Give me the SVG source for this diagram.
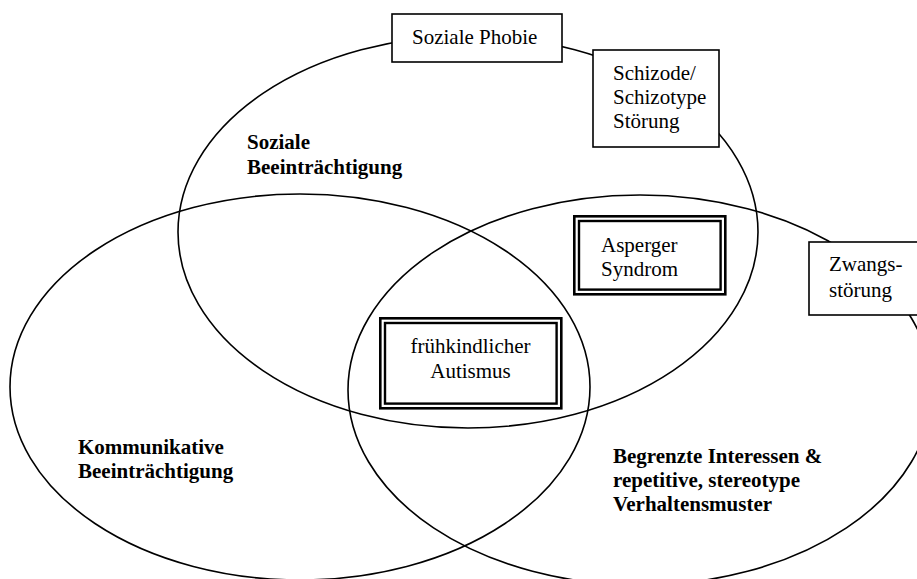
<svg xmlns="http://www.w3.org/2000/svg" width="917" height="579" viewBox="0 0 917 579">
<style>
.ell{fill:none;stroke:#000;stroke-width:1.6}
.box{fill:#fff;stroke:#000;stroke-width:1.6}
.dbl{fill:#fff;stroke:#000;stroke-width:2.6}
.dbli{fill:none;stroke:#000;stroke-width:2.4}
.t{font-family:"Liberation Serif","Times New Roman",serif;font-size:21px;fill:#000}
.b{font-weight:bold}
</style>
<rect width="917" height="579" fill="#fff"/>
<g id="sets">
<ellipse id="set-sozial" class="ell" cx="468" cy="232" rx="290" ry="196"/>
<ellipse id="set-kommunikativ" class="ell" cx="300" cy="387" rx="290" ry="193"/>
<ellipse id="set-begrenzt" class="ell" cx="640" cy="390" rx="292" ry="195"/>
</g>
<g id="connectors"></g>
<g id="label-sozial">
<text class="t b" x="247" y="149">Soziale</text>
<text class="t b" x="247" y="174">Beeinträchtigung</text>
</g>
<g id="label-kommunikativ">
<text class="t b" x="78" y="454">Kommunikative</text>
<text class="t b" x="78" y="478">Beeinträchtigung</text>
</g>
<g id="label-begrenzt">
<text class="t b" x="613" y="463">Begrenzte Interessen &amp;</text>
<text class="t b" x="613" y="487">repetitive, stereotype</text>
<text class="t b" x="613" y="511">Verhaltensmuster</text>
</g>
<g id="soziale-phobie">
<rect class="box" x="392" y="14" width="170" height="48"/>
<text class="t" x="412" y="44">Soziale Phobie</text>
</g>
<g id="schizode">
<rect class="box" x="593" y="50" width="126" height="97"/>
<text class="t" x="613" y="80">Schizode/</text>
<text class="t" x="613" y="104">Schizotype</text>
<text class="t" x="613" y="128">Störung</text>
</g>
<g id="zwang">
<rect class="box" x="809" y="242" width="120" height="73"/>
<text class="t" x="829" y="271">Zwangs-</text>
<text class="t" x="829" y="297">störung</text>
</g>
<g id="asperger">
<rect class="dbl" x="574.3" y="216.3" width="151" height="78"/>
<rect class="dbli" x="579" y="221" width="141.6" height="68.6"/>
<text class="t" x="601" y="252">Asperger</text>
<text class="t" x="601" y="276">Syndrom</text>
</g>
<g id="autismus">
<rect class="dbl" x="380.3" y="318.3" width="181" height="90"/>
<rect class="dbli" x="385" y="323" width="171.6" height="80.6"/>
<text class="t" x="470.5" y="353" text-anchor="middle">frühkindlicher</text>
<text class="t" x="470.5" y="378" text-anchor="middle">Autismus</text>
</g>
</svg>
